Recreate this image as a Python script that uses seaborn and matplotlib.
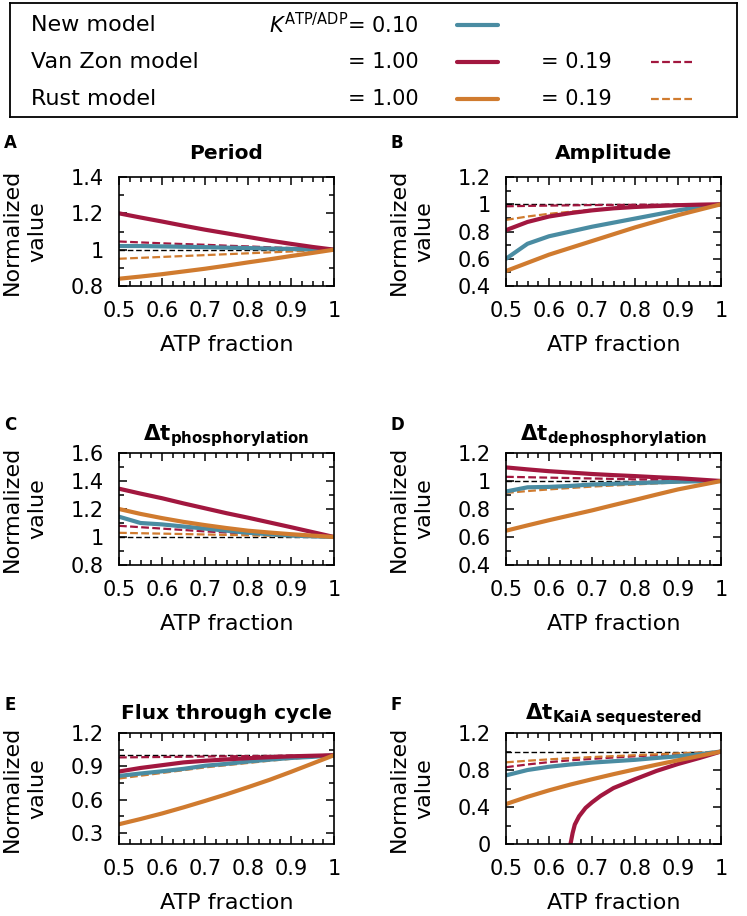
import matplotlib
matplotlib.use("Agg")
import matplotlib.pyplot as plt
from matplotlib.ticker import MultipleLocator, FuncFormatter
import seaborn as sns

sns.set_theme(style="ticks")
plt.rcParams['font.family'] = ['DejaVu Sans']
plt.rcParams['mathtext.fontset'] = 'dejavusans'
plt.rcParams['text.color'] = 'black'
plt.rcParams['axes.labelcolor'] = 'black'
plt.rcParams['xtick.color'] = 'black'
plt.rcParams['ytick.color'] = 'black'

BLUE = "#4a8ca2"
RED = "#a2173f"
ORANGE = "#d07b2f"

atp = [0.5, 0.55, 0.6, 0.65, 0.7, 0.75, 0.8, 0.85, 0.9, 0.95, 1.0]

# A: period
period_new = [1.02, 1.02, 1.018, 1.016, 1.014, 1.011, 1.009, 1.006, 1.004, 1.002, 1.0]
period_vz = [1.20, 1.177, 1.155, 1.132, 1.11, 1.09, 1.07, 1.05, 1.032, 1.015, 1.0]
period_vz019 = [1.045, 1.04, 1.035, 1.031, 1.027, 1.022, 1.018, 1.013, 1.009, 1.004, 1.0]
period_rust = [0.84, 0.852, 0.865, 0.88, 0.895, 0.912, 0.93, 0.947, 0.965, 0.982, 1.0]
period_rust019 = [0.95, 0.955, 0.96, 0.965, 0.97, 0.975, 0.98, 0.985, 0.99, 0.995, 1.0]

# B: amplitude
amp_new = [0.60, 0.71, 0.765, 0.80, 0.835, 0.865, 0.895, 0.925, 0.955, 0.98, 1.0]
amp_vz = [0.81, 0.87, 0.91, 0.935, 0.955, 0.97, 0.98, 0.987, 0.993, 0.997, 1.0]
amp_vz019 = [0.985, 0.988, 0.99, 0.992, 0.994, 0.995, 0.996, 0.997, 0.998, 0.999, 1.0]
amp_rust = [0.51, 0.57, 0.63, 0.68, 0.73, 0.78, 0.83, 0.875, 0.92, 0.96, 1.0]
amp_rust019 = [0.885, 0.91, 0.93, 0.945, 0.96, 0.97, 0.98, 0.986, 0.991, 0.996, 1.0]

# C: phosphorylation time
phos_new = [1.145, 1.10, 1.09, 1.075, 1.06, 1.045, 1.03, 1.02, 1.01, 1.005, 1.0]
phos_vz = [1.345, 1.31, 1.277, 1.24, 1.205, 1.17, 1.138, 1.104, 1.07, 1.035, 1.0]
phos_vz019 = [1.08, 1.07, 1.06, 1.05, 1.04, 1.032, 1.025, 1.017, 1.01, 1.005, 1.0]
phos_rust = [1.2, 1.165, 1.135, 1.108, 1.085, 1.064, 1.045, 1.032, 1.02, 1.01, 1.0]
phos_rust019 = [1.03, 1.027, 1.024, 1.021, 1.018, 1.015, 1.012, 1.009, 1.006, 1.003, 1.0]

# D: dephosphorylation time
dephos_new = [0.925, 0.955, 0.958, 0.965, 0.975, 0.98, 0.985, 0.99, 0.995, 0.998, 1.0]
dephos_vz = [1.097, 1.083, 1.07, 1.06, 1.05, 1.042, 1.035, 1.027, 1.02, 1.01, 1.0]
dephos_vz019 = [1.03, 1.027, 1.024, 1.021, 1.018, 1.015, 1.012, 1.009, 1.006, 1.003, 1.0]
dephos_rust = [0.645, 0.683, 0.72, 0.755, 0.79, 0.828, 0.865, 0.903, 0.94, 0.97, 1.0]
dephos_rust019 = [0.915, 0.928, 0.94, 0.95, 0.96, 0.968, 0.975, 0.983, 0.99, 0.995, 1.0]

# E: flux through cycle
flux_new = [0.813, 0.835, 0.855, 0.877, 0.905, 0.922, 0.943, 0.96, 0.975, 0.985, 1.0]
flux_vz = [0.853, 0.885, 0.91, 0.935, 0.95, 0.962, 0.973, 0.982, 0.99, 0.995, 1.0]
flux_vz019 = [0.98, 0.982, 0.984, 0.986, 0.988, 0.99, 0.992, 0.994, 0.996, 0.998, 1.0]
flux_rust = [0.378, 0.425, 0.475, 0.53, 0.588, 0.648, 0.712, 0.778, 0.85, 0.925, 1.0]
flux_rust019 = [0.79, 0.815, 0.84, 0.865, 0.89, 0.91, 0.93, 0.95, 0.967, 0.984, 1.0]

# F: KaiA sequestered time
kaia_new = [0.742, 0.80, 0.835, 0.86, 0.88, 0.895, 0.91, 0.93, 0.948, 0.97, 1.0]
kaia_vz_x = [0.65, 0.655, 0.66, 0.67, 0.685, 0.7, 0.72, 0.75, 0.8, 0.85, 0.9, 0.95, 1.0]
kaia_vz = [0.0, 0.12, 0.21, 0.30, 0.39, 0.45, 0.52, 0.605, 0.70, 0.79, 0.865, 0.93, 1.0]
kaia_vz019 = [0.83, 0.86, 0.885, 0.905, 0.92, 0.935, 0.948, 0.96, 0.973, 0.986, 1.0]
kaia_rust = [0.432, 0.51, 0.58, 0.643, 0.70, 0.755, 0.807, 0.857, 0.905, 0.952, 1.0]
kaia_rust019 = [0.883, 0.9, 0.915, 0.928, 0.94, 0.95, 0.96, 0.97, 0.98, 0.99, 1.0]

panels = [
    ("A", "Period", (0.8, 1.4), 0.2, 0.1,
     period_new, (atp, period_vz), period_vz019, period_rust, period_rust019),
    ("B", "Amplitude", (0.4, 1.2), 0.2, 0.1,
     amp_new, (atp, amp_vz), amp_vz019, amp_rust, amp_rust019),
    ("C", r"$\mathbf{\Delta t}_{\mathbf{phosphorylation}}$", (0.8, 1.6), 0.2, 0.1,
     phos_new, (atp, phos_vz), phos_vz019, phos_rust, phos_rust019),
    ("D", r"$\mathbf{\Delta t}_{\mathbf{dephosphorylation}}$", (0.4, 1.2), 0.2, 0.1,
     dephos_new, (atp, dephos_vz), dephos_vz019, dephos_rust, dephos_rust019),
    ("E", "Flux through cycle", (0.2, 1.2), 0.3, 0.15,
     flux_new, (atp, flux_vz), flux_vz019, flux_rust, flux_rust019),
    ("F", r"$\mathbf{\Delta t}_{\mathbf{KaiA\ sequestered}}$", (0.0, 1.2), 0.4, 0.2,
     kaia_new, (kaia_vz_x, kaia_vz), kaia_vz019, kaia_rust, kaia_rust019),
]

W, H = 747, 916
fig = plt.figure(figsize=(W / 100, H / 100), dpi=100)

# axes boxes in pixels: left, top, width, height
col_left = [119, 506]
row_top = [177, 453, 733]
row_h = [109, 112, 111]
ax_w = 215
title_pad = [13, 9, 10]
letter_y = [143, 425, 705]
letter_x = [4, 391]

fmt = FuncFormatter(lambda v, p: f"{v:g}")
solid_w = 3.0
dash_w = 1.6
dash_style = (0, (3.5, 1.5))

for i, (letter, title, ylim, ymaj, ymin, new, vz, vz019, rust, rust019) in enumerate(panels):
    r, c = divmod(i, 2)
    l, t, h = col_left[c], row_top[r], row_h[r]
    ax = fig.add_axes([l / W, 1 - (t + h) / H, ax_w / W, h / H])
    ax.axhline(1.0, color="black", lw=1.0, linestyle=(0, (4, 2)), zorder=1)
    sns.lineplot(x=atp, y=vz019, ax=ax, color=RED, linewidth=dash_w, linestyle=dash_style)
    sns.lineplot(x=atp, y=rust019, ax=ax, color=ORANGE, linewidth=dash_w, linestyle=dash_style)
    sns.lineplot(x=atp, y=new, ax=ax, color=BLUE, linewidth=solid_w)
    sns.lineplot(x=vz[0], y=vz[1], ax=ax, color=RED, linewidth=solid_w)
    sns.lineplot(x=atp, y=rust, ax=ax, color=ORANGE, linewidth=solid_w)

    ax.set_xlim(0.5, 1.0)
    ax.set_ylim(*ylim)
    ax.xaxis.set_major_locator(MultipleLocator(0.1))
    ax.xaxis.set_minor_locator(MultipleLocator(0.025))
    ax.yaxis.set_major_locator(MultipleLocator(ymaj))
    ax.yaxis.set_minor_locator(MultipleLocator(ymin))
    ax.xaxis.set_major_formatter(fmt)
    ax.yaxis.set_major_formatter(fmt)
    ax.tick_params(which="both", direction="in", top=True, right=True,
                   width=1.1, color="black", labelsize=15, pad=11)
    ax.tick_params(which="major", length=6)
    ax.tick_params(which="minor", length=3.5)
    for s in ax.spines.values():
        s.set_linewidth(1.2)
        s.set_color("black")

    tsize = 15.5 if title.startswith("$") else 14.5
    ax.set_title(title, fontsize=tsize, fontweight="bold", pad=title_pad[r])
    ax.set_xlabel("ATP fraction", fontsize=16, labelpad=10)
    ax.set_ylabel("Normalized\nvalue", fontsize=16, linespacing=1.3)
    ax.yaxis.set_label_coords(-0.335, 0.5)
    fig.text(letter_x[c] / W, 1 - letter_y[r] / H, letter, fontsize=12,
             fontweight="bold", va="center", ha="left")

# legend box
lx, ly, lw_, lh = 10, 3, 727, 114
leg = fig.add_axes([lx / W, 1 - (ly + lh) / H, lw_ / W, lh / H])
leg.set_xlim(lx, lx + lw_)
leg.set_ylim(ly + lh, ly)
leg.set_xticks([])
leg.set_yticks([])
for s in leg.spines.values():
    s.set_linewidth(1.3)
    s.set_color("black")

names = ["New model", "Van Zon model", "Rust model"]
solid_labels = [r"$K^{\mathrm{ATP/ADP}}$= 0.10", "= 1.00", "= 1.00"]
dashed_labels = [None, "= 0.19", "= 0.19"]
colors = [BLUE, RED, ORANGE]
rows_y = [25, 62, 99]
for name, sl, dl, col, yy in zip(names, solid_labels, dashed_labels, colors, rows_y):
    leg.text(31, yy, name, fontsize=16, va="center", ha="left")
    leg.text(419, yy, sl, fontsize=15, va="center", ha="right")
    leg.plot([457, 498], [yy, yy], color=col, lw=3.0, solid_capstyle="round")
    if dl is not None:
        leg.text(612, yy, dl, fontsize=15, va="center", ha="right")
        leg.plot([651, 692], [yy, yy], color=col, lw=1.6, linestyle=dash_style)

fig.savefig("out.png", dpi=100)
